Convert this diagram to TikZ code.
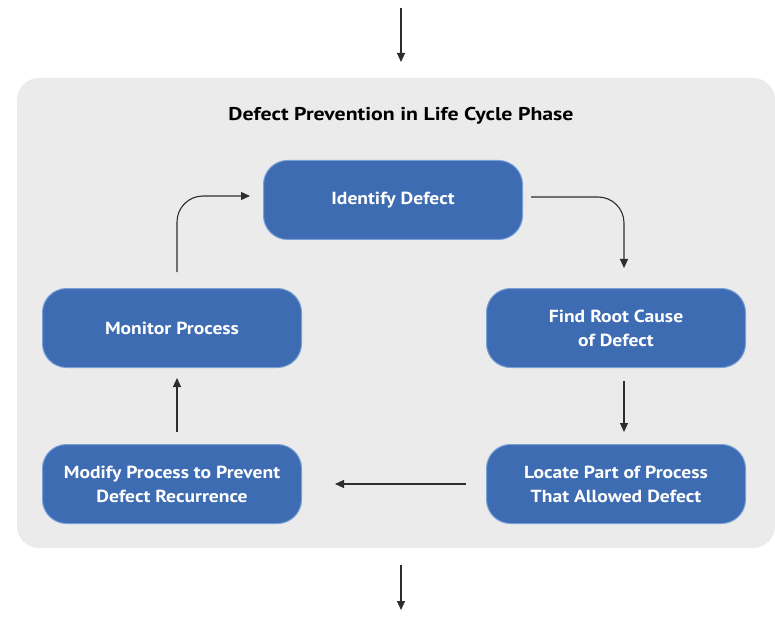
\documentclass[tikz,border=0pt]{standalone}
\usepackage{fontspec}
\setmainfont{PT Sans}[FakeStretch=1.12]
\newfontfamily\titlefont{PT Sans}[FakeStretch=1.18]
\usetikzlibrary{arrows.meta}
\definecolor{boxblue}{RGB}{62,108,178}
\definecolor{boxedge}{RGB}{120,160,215}
\definecolor{panelgrey}{RGB}{235,235,235}
\definecolor{arrowgrey}{RGB}{45,45,45}
\begin{document}
\begin{tikzpicture}[x=1pt,y=-1pt,
  stepbox/.style={draw=boxedge,line width=1pt,fill=boxblue,rounded corners=24pt,
    minimum width=259pt,minimum height=79pt,text=white,align=center,
    font=\bfseries\fontsize{17.5}{24}\selectfont},
  flow/.style={draw=arrowgrey,line width=1.1pt,-{Triangle[width=8pt,length=9pt]}}]
\useasboundingbox (0,0) rectangle (775,617);
\fill[white] (0,0) rectangle (775,617);
\node[fill=panelgrey,rounded corners=22pt,minimum width=758pt,minimum height=470pt,inner sep=0pt] (panel) at (396,313) {};
\node[font=\titlefont\bfseries\fontsize{18.5}{22}\selectfont] (title) at (401,116) {Defect Prevention in Life Cycle Phase};
\node[stepbox] (identify) at (393,200) {Identify Defect};
\node[stepbox] (monitor) at (172,328) {Monitor Process};
\node[stepbox] (root) at (616,328) {Find Root Cause\\of Defect};
\node[stepbox] (modify) at (172,484) {Modify Process to Prevent\\Defect Recurrence};
\node[stepbox] (locate) at (616,484) {Locate Part of Process\\That Allowed Defect};
\coordinate (topin) at (401,8);
\coordinate (botout) at (401,610);
\coordinate (idin) at (250,196);
\draw[flow] (topin) -- (401,62);
\draw[flow] (401,565) -- (botout);
\draw[flow] (177,272) -- (177,222) to[out=90,in=180] (203,196) -- (idin);
\draw[flow] (identify.east) ++(8,-3) -- (598,197) to[out=0,in=90] (624,223) -- (624,268);
\draw[flow] (root.south) ++(8,13) -- (624,432);
\draw[flow] (locate.west) ++(-20,0) -- (335,484);
\draw[flow] (modify.north) ++(5,-12) -- (177,378);
\end{tikzpicture}
\end{document}
